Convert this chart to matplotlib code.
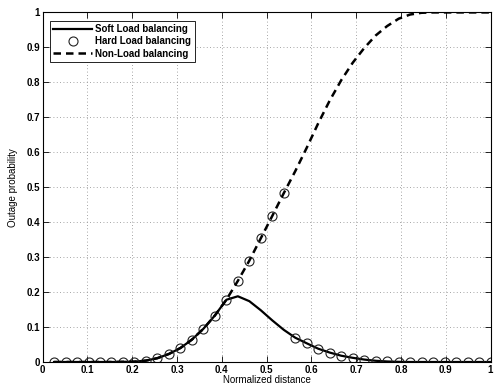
import numpy as np
import matplotlib.pyplot as plt

plt.rcParams['font.family']       = ['Liberation Sans', 'DejaVu Sans']
plt.rcParams['font.size']         = 7
plt.rcParams['font.weight']       = 'bold'
plt.rcParams['xtick.direction']   = 'in'
plt.rcParams['ytick.direction']   = 'in'
plt.rcParams['xtick.top']         = True
plt.rcParams['ytick.right']       = True
plt.rcParams['axes.linewidth']    = 0.8

# sample points: k/39, k = 1..39
x = np.arange(1, 40) / 39.0

soft = [0.0, 0.0, 0.0, 0.0, 0.0, 0.0, 0.0005, 0.001, 0.004, 0.011,
        0.023, 0.040, 0.064, 0.095, 0.133, 0.178, 0.188, 0.174, 0.148, 0.119,
        0.092, 0.0695, 0.0535, 0.038, 0.027, 0.018, 0.012, 0.007, 0.0035, 0.0015,
        0.0005, 0.0, 0.0, 0.0, 0.0, 0.0, 0.0, 0.0, 0.0]

non_lb = [0.0, 0.0, 0.0, 0.0, 0.0, 0.0, 0.0005, 0.001, 0.004, 0.011,
          0.023, 0.040, 0.064, 0.095, 0.133, 0.178, 0.232, 0.290, 0.354, 0.418,
          0.483, 0.546, 0.613, 0.683, 0.748, 0.806, 0.856, 0.898, 0.934, 0.961,
          0.982, 0.994, 0.999, 1.0, 1.0, 1.0, 1.0, 1.0, 1.0]

hard = [0.0, 0.0, 0.0, 0.0, 0.0, 0.0, 0.0005, 0.001, 0.004, 0.011,
        0.023, 0.040, 0.064, 0.095, 0.133, 0.178, 0.232, 0.290, 0.354, 0.418,
        0.483, 0.0695, 0.0535, 0.038, 0.027, 0.018, 0.012, 0.007, 0.0035, 0.0015,
        0.0005, 0.0, 0.0, 0.0, 0.0, 0.0, 0.0, 0.0, 0.0]

ticks = np.arange(0, 11) / 10.0
tick_labels = ['0', '0.1', '0.2', '0.3', '0.4', '0.5', '0.6', '0.7', '0.8', '0.9', '1']

fig = plt.figure(figsize=(4.95, 3.88), dpi=100)
ax = fig.add_axes([0.086, 0.067, 0.905, 0.901])

ax.plot(x, soft, 'k-', lw=1.6, label='Soft Load balancing')
ax.plot(x, hard, 'o', ls='none', mfc='none', mec='#222222', ms=6.5, mew=0.8,
        label='Hard Load balancing')
ax.plot(x, non_lb, 'k--', lw=1.8, dashes=(3, 2), label='Non-Load balancing')

ax.set_xlim(0, 1)
ax.set_ylim(0, 1)
ax.set_xticks(ticks)
ax.set_xticklabels(tick_labels)
ax.set_yticks(ticks)
ax.set_yticklabels(tick_labels)
ax.tick_params(length=4, width=0.6, pad=2)
ax.grid(True, ls=(0, (1, 3)), lw=0.6, color='#888888')

ax.set_xlabel('Normalized distance', labelpad=0)
ax.set_ylabel('Outage probability', labelpad=6)

leg = ax.legend(loc='upper left', bbox_to_anchor=(0.01, 0.985), fancybox=False,
                edgecolor='k', framealpha=1, handlelength=4, borderpad=0.35,
                labelspacing=0.25, handletextpad=0.3, borderaxespad=0.3)
leg.get_frame().set_linewidth(0.6)

fig.savefig('out.png', dpi=100)
